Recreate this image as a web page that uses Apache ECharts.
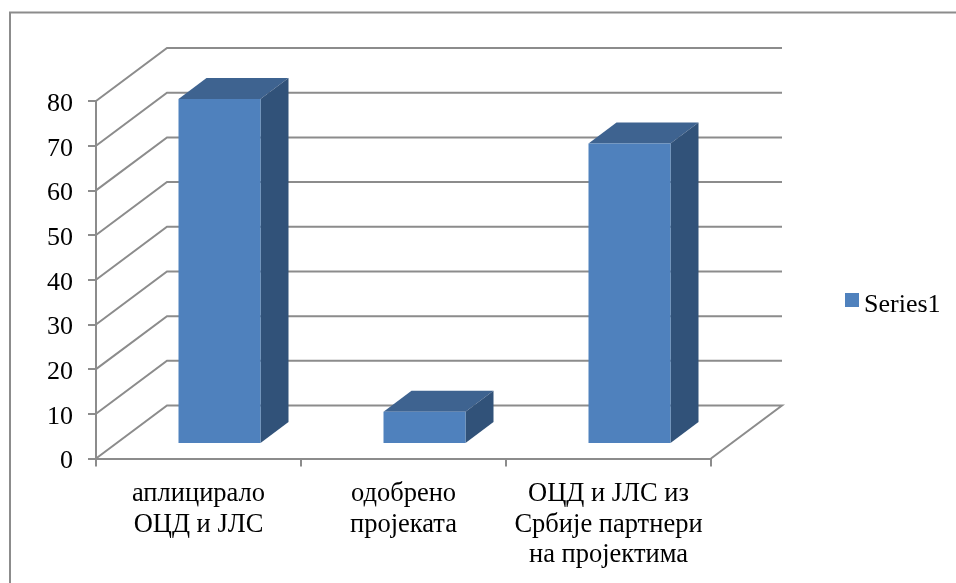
<!DOCTYPE html>
<html><head><meta charset="utf-8">
<style>html,body{margin:0;padding:0;background:#fff}#c{width:956px;height:583px}</style>
<script src="https://cdn.jsdelivr.net/npm/echarts@6/dist/echarts.min.js"></script>
</head><body><div id="c"></div>
<script>
const categories = ['аплицирало\nОЦД и ЈЛС', 'одобрено\nпројеката', 'ОЦД и ЈЛС из\nСрбије партнери\nна пројектима'];
const seriesName = 'Series1';
const values = [77, 7, 67];
const yTicks = [0, 10, 20, 30, 40, 50, 60, 70, 80];

const WALL_DX = 71, WALL_DY = 53;      // floor depth projection
const BAR_OFF_DX = 21, BAR_OFF_DY = 15.5; // bar's front face inset
const BAR_DX = 28, BAR_DY = 21;        // bar depth projection
const LINE = '#8c8c8c', FONT = '"Liberation Serif","Times New Roman",serif';
const LW = 2;
const shifted = {fontFamily: FONT, fontSize: 26, color: '#000', padding: [6, 0, 0, 0]};
const shiftedLegend = {fontFamily: FONT, fontSize: 26, color: '#000', padding: [10, 0, 0, 0]};

const chart = echarts.init(document.getElementById('c'));
chart.setOption({
  animation: false,
  backgroundColor: '#fff',
  textStyle: {fontFamily: FONT},
  graphic: [{type: 'polyline', silent: true, z: -1,
    shape: {points: [[10, 583], [10, 12.5], [956, 12.5]]},
    style: {stroke: LINE, lineWidth: LW, fill: null}}],
  legend: {
    show: true, data: [{name: seriesName, icon: 'rect', itemStyle: {color: '#4F81BD'}}],
    left: 840, top: 287, itemWidth: 14, itemHeight: 14, itemGap: 0,
    formatter: name => '{a|' + name + '}',
    textStyle: {fontFamily: FONT, fontSize: 26, color: '#000', rich: {a: shiftedLegend}}
  },
  grid: {left: 96, right: 245, top: 101, bottom: 124.5},
  xAxis: {
    type: 'category', data: categories,
    axisLine: {show: true, lineStyle: {color: LINE, width: LW}},
    axisTick: {show: true, alignWithLabel: false, length: 8, lineStyle: {color: LINE, width: LW}},
    axisLabel: {color: '#000', fontFamily: FONT, fontSize: 26.5, lineHeight: 30.5, margin: 20.5, interval: 0},
    splitLine: {show: false}
  },
  yAxis: {
    type: 'value', min: 0, max: 80, interval: 10,
    axisLine: {show: true, lineStyle: {color: LINE, width: LW}},
    axisTick: {show: true, length: 8, lineStyle: {color: LINE, width: LW}},
    axisLabel: {color: '#000', fontFamily: FONT, fontSize: 26, margin: 23, formatter: '{a|{value}}', rich: {a: shifted}},
    splitLine: {show: false}
  },
  series: [
    {
      type: 'custom', name: 'walls', silent: true, z: 1, clip: false,
      data: yTicks.map(v => [0, v]),
      encode: {x: 0, y: 1},
      renderItem(params, api) {
        const v = api.value(1);
        const p = api.coord([0, v]);
        const band = api.size([1, 0])[0];
        const n = categories.length;
        const x0 = p[0] - band / 2, y0 = p[1];
        const pts = [[x0, y0], [x0 + WALL_DX, y0 - WALL_DY], [x0 + band * n + WALL_DX, y0 - WALL_DY]];
        if (v === 0) pts.push([x0 + band * n, y0]);
        return {type: 'polyline', shape: {points: pts}, style: {stroke: LINE, lineWidth: LW, fill: null}};
      }
    },
    {
      type: 'custom', name: seriesName, z: 2, clip: false,
      data: values.map((v, i) => [i, v]),
      encode: {x: 0, y: 1},
      renderItem(params, api) {
        const i = api.value(0), v = api.value(1);
        const top = api.coord([i, v]), base = api.coord([i, 0]);
        const w = api.size([1, 0])[0] * 0.4;
        const x1 = top[0] - w / 2 + BAR_OFF_DX, x2 = x1 + w;
        const yb = base[1] - BAR_OFF_DY, yt = top[1] - BAR_OFF_DY;
        return {type: 'group', children: [
          {type: 'polygon', shape: {points: [[x1, yt], [x2, yt], [x2 + BAR_DX, yt - BAR_DY], [x1 + BAR_DX, yt - BAR_DY]]}, style: {fill: '#3E6390'}},
          {type: 'polygon', shape: {points: [[x2, yb], [x2, yt], [x2 + BAR_DX, yt - BAR_DY], [x2 + BAR_DX, yb - BAR_DY]]}, style: {fill: '#315279'}},
          {type: 'rect', shape: {x: x1, y: yt, width: w, height: yb - yt}, style: {fill: '#4F81BD'}}
        ]};
      }
    }
  ]
});
</script></body></html>
